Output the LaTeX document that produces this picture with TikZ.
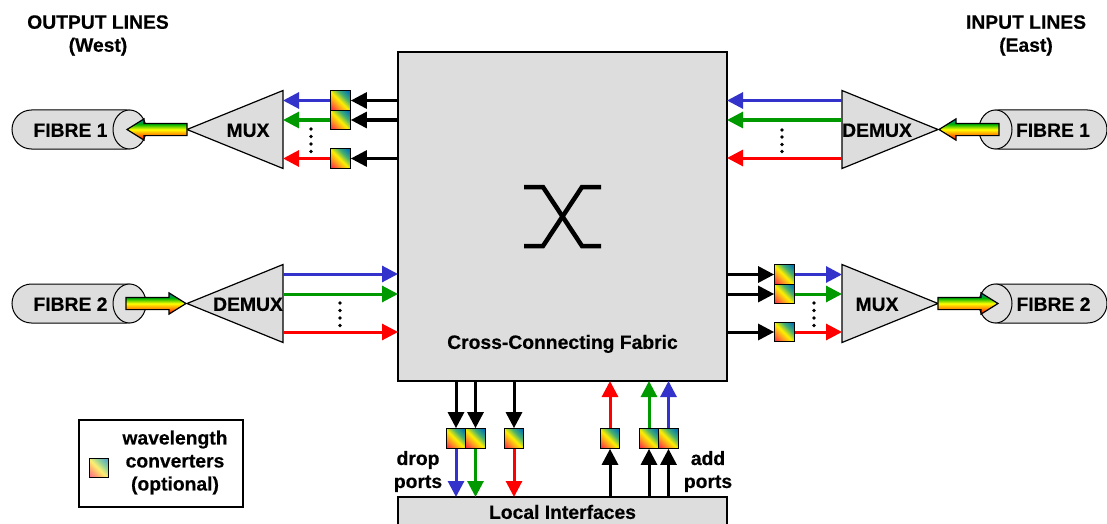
\documentclass[tikz,border=0pt]{standalone}
\usepackage{fontspec}
\setmainfont[BoldFeatures={FakeBold=0.4}]{Liberation Sans}
\usetikzlibrary{arrows.meta,shapes.geometric,shapes.arrows,shapes.misc}

\definecolor{boxgrey}{HTML}{DDDDDD}
\definecolor{waveblue}{HTML}{3333CC}
\definecolor{wavegreen}{HTML}{009900}
\definecolor{wavered}{HTML}{FF0000}
\definecolor{sred}{HTML}{FF3344}
\definecolor{sorange}{HTML}{FF9922}
\definecolor{syellow}{HTML}{FFF000}
\definecolor{sgreen}{HTML}{44B070}
\definecolor{steal}{HTML}{0070B8}
\definecolor{pred}{HTML}{FF7088}
\definecolor{porange}{HTML}{FFB070}
\definecolor{pyellow}{HTML}{FFF070}
\definecolor{pgreen}{HTML}{90D098}
\definecolor{pteal}{HTML}{50A0D0}

\pgfdeclarehorizontalshading{convshade}{100bp}{color(0bp)=(sred); color(18bp)=(sred); color(34bp)=(sorange); color(48bp)=(syellow); color(64bp)=(sgreen); color(82bp)=(steal); color(100bp)=(steal)}
\pgfdeclarehorizontalshading{convpale}{100bp}{color(0bp)=(pred); color(18bp)=(pred); color(34bp)=(porange); color(48bp)=(pyellow); color(64bp)=(pgreen); color(82bp)=(pteal); color(100bp)=(pteal)}
\pgfdeclareverticalshading{beamshade}{100bp}{color(0bp)=(red); color(25bp)=(red); color(37.5bp)=(orange); color(50bp)=(yellow); color(62.5bp)=(green!70!black); color(75bp)=(steal); color(100bp)=(steal)}

\tikzset{
	txt/.style={font=\bfseries\fontsize{19.3}{23}\selectfont, inner sep=0pt, align=center},
	capstxt/.style={txt, text height=13.7pt, text depth=0pt},
	greybox/.style={draw, fill=boxgrey, line width=1.8pt, inner sep=0pt, outer sep=0pt},
	mxtri/.style={draw, fill=boxgrey, line width=1.2pt, isosceles triangle, isosceles triangle stretches, minimum width=78pt, minimum height=96pt, inner sep=0pt, outer sep=0pt, anchor=apex},
	conv/.style={draw, line width=1.3pt, shade, shading=convshade, shading angle=45, minimum size=19.5pt, inner sep=0pt, outer sep=0.6pt},
	fibrebody/.style={draw, fill=boxgrey, line width=1pt, rounded rectangle, minimum height=39pt, inner sep=0pt, outer sep=0pt},
	fibreend/.style={draw, fill=boxgrey!90!white, line width=1pt, ellipse, minimum width=33pt, minimum height=39pt, inner sep=0pt, outer sep=0pt},
	beam/.style={draw, line width=1.2pt, shade, shading=beamshade, single arrow, minimum height=60pt, minimum width=20pt, single arrow head extend=4.5pt, single arrow head indent=0pt, single arrow tip angle=64, inner xsep=0pt, inner ysep=5.5pt, outer sep=0pt},
	blackline/.style={line width=3pt, -{Triangle[length=16pt,width=16pt]}},
	blueline/.style={blackline, waveblue},
	greenline/.style={blackline, wavegreen},
	redline/.style={blackline, wavered}
}

\begin{document}
\begin{tikzpicture}[x=1pt,y=-1pt]
	\clip (0,0) rectangle (1107,524);

	% central fabric and local interfaces
	\node[greybox, minimum width=329pt, minimum height=329pt] (fabric) at (562.5,216.5) {};
	\node[capstxt] (fabriclabel) at (562.5,342) {Cross-Connecting Fabric};
	\node[greybox, minimum width=329pt, minimum height=30pt] (local) at (562.5,512) {};
	\node[capstxt] (locallabel) at (562.5,512) {Local Interfaces};
	\coordinate (xa) at (524,187);
	\coordinate (xb) at (601,187);
	\coordinate (xc) at (524,246);
	\coordinate (xd) at (601,246);
	\draw[line width=4.5pt] (xa) -- (543,187) -- (582,246) -- (xd);
	\draw[line width=4.5pt] (xc) -- (543,246) -- (582,187) -- (xb);

	% headings
	\node[txt] (westhead) at (98,35.5) {OUTPUT LINES\\(West)};
	\node[txt] (easthead) at (1026,35.5) {INPUT LINES\\(East)};

	% west output, fibre 1
	\node[fibrebody, minimum width=134pt] (fw1) at (79,129.5) {};
	\node[fibreend] (fw1end) at (129.5,129.5) {};
	\node[capstxt] (fw1label) at (70.5,130) {FIBRE 1};
	\node[mxtri, shape border rotate=180] (mxw) at (187,129.5) {};
	\node[capstxt] (mxwlabel) at (248,130) {MUX};
	\node[beam, shape border rotate=180, anchor=tip] (bw1) at (127,129.5) {};
	\node[conv] (cw1) at (340.5,100.5) {};
	\node[conv] (cw2) at (340.5,120) {};
	\node[conv] (cw3) at (340.5,158.5) {};
	\draw[blackline] (fabric.west |- cw1) -- (cw1);
	\draw[blackline] (fabric.west |- cw2) -- (cw2);
	\draw[blackline] (fabric.west |- cw3) -- (cw3);
	\draw[blueline] (cw1) -- (cw1 -| mxw.lower side);
	\draw[greenline] (cw2) -- (cw2 -| mxw.lower side);
	\draw[redline] (cw3) -- (cw3 -| mxw.lower side);
	\foreach \d in {129,136.5,144,151.5}
		\fill (311,\d) circle (1.8);

	% west input, fibre 2
	\node[fibrebody, minimum width=134pt] (fw2) at (79,303.5) {};
	\node[fibreend] (fw2end) at (129.5,303.5) {};
	\node[capstxt] (fw2label) at (70.5,304) {FIBRE 2};
	\node[mxtri, shape border rotate=180] (dxw) at (187,303.5) {};
	\node[capstxt] (dxwlabel) at (248,304) {DEMUX};
	\node[beam, anchor=tip] (bw2) at (186,303.5) {};
	\coordinate (dw1) at (283,274);
	\coordinate (dw2) at (283,294);
	\coordinate (dw3) at (283,332);
	\draw[blueline] (dw1) -- (fabric.west |- dw1);
	\draw[greenline] (dw2) -- (fabric.west |- dw2);
	\draw[redline] (dw3) -- (fabric.west |- dw3);
	\foreach \d in {303,310.5,318,325.5}
		\fill (340,\d) circle (1.8);

	% east input, fibre 1
	\node[fibrebody, minimum width=128pt] (fe1) at (1043,129.5) {};
	\node[fibreend] (fe1end) at (995.5,129.5) {};
	\node[capstxt] (fe1label) at (1053,130) {FIBRE 1};
	\node[mxtri] (dxe) at (938,129.5) {};
	\node[capstxt] (dxelabel) at (877,130) {DEMUX};
	\node[beam, shape border rotate=180, anchor=tip] (be1) at (939,129.5) {};
	\coordinate (de1) at (842,100.5);
	\coordinate (de2) at (842,120);
	\coordinate (de3) at (842,158);
	\draw[blueline] (de1) -- (fabric.east |- de1);
	\draw[greenline] (de2) -- (fabric.east |- de2);
	\draw[redline] (de3) -- (fabric.east |- de3);
	\foreach \d in {130,137,144.5,151.5}
		\fill (782,\d) circle (1.8);

	% east output, fibre 2
	\node[fibrebody, minimum width=128pt] (fe2) at (1043,303.5) {};
	\node[fibreend] (fe2end) at (995.5,303.5) {};
	\node[capstxt] (fe2label) at (1053.5,304) {FIBRE 2};
	\node[mxtri] (mxe) at (938,303.5) {};
	\node[capstxt] (mxelabel) at (877,304) {MUX};
	\node[beam, anchor=tip] (be2) at (998,303.5) {};
	\node[conv] (ce1) at (784.5,274.5) {};
	\node[conv] (ce2) at (784.5,294) {};
	\node[conv] (ce3) at (784.5,332) {};
	\draw[blackline] (fabric.east |- ce1) -- (ce1);
	\draw[blackline] (fabric.east |- ce2) -- (ce2);
	\draw[blackline] (fabric.east |- ce3) -- (ce3);
	\draw[blueline] (ce1) -- (ce1 -| mxe.lower side);
	\draw[greenline] (ce2) -- (ce2 -| mxe.lower side);
	\draw[redline] (ce3) -- (ce3 -| mxe.lower side);
	\foreach \d in {303,310.5,318,325.5}
		\fill (814,\d) circle (1.8);

	% drop ports
	\node[conv] (cd1) at (456,438.5) {};
	\node[conv] (cd2) at (475.5,438.5) {};
	\node[conv] (cd3) at (514,438.5) {};
	\draw[blackline] (cd1 |- fabric.south) -- (cd1);
	\draw[blackline] (cd2 |- fabric.south) -- (cd2);
	\draw[blackline] (cd3 |- fabric.south) -- (cd3);
	\draw[blueline] (cd1) -- (cd1 |- local.north);
	\draw[greenline] (cd2) -- (cd2 |- local.north);
	\draw[redline] (cd3) -- (cd3 |- local.north);
	\node[txt] (droplabel) at (418,471.5) {drop\\ports};

	% add ports
	\node[conv] (ca1) at (610,438.5) {};
	\node[conv] (ca2) at (649,438.5) {};
	\node[conv] (ca3) at (668.5,438.5) {};
	\draw[blackline] (ca1 |- local.north) -- (ca1);
	\draw[blackline] (ca2 |- local.north) -- (ca2);
	\draw[blackline] (ca3 |- local.north) -- (ca3);
	\draw[redline] (ca1) -- (ca1 |- fabric.south);
	\draw[greenline] (ca2) -- (ca2 |- fabric.south);
	\draw[blueline] (ca3) -- (ca3 |- fabric.south);
	\node[txt] (addlabel) at (708,471.5) {add\\ports};

	% legend
	\node[draw, line width=1.2pt, minimum width=164pt, minimum height=87pt, inner sep=0pt] (legend) at (161,463.5) {};
	\node[conv, shading=convpale, line width=1pt] (legconv) at (99,468) {};
	\node[txt] (legendlabel) at (175,462.5) {wavelength\\converters\\(optional)};
\end{tikzpicture}
\end{document}
